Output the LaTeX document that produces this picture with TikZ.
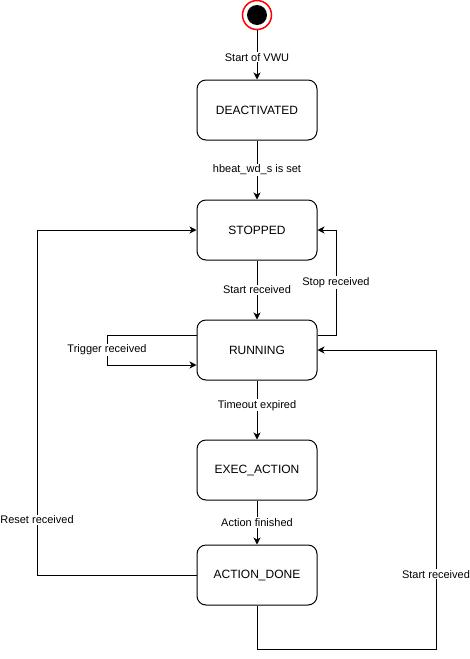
\documentclass[tikz,border=0pt]{standalone}
\usepackage{fontspec}
\setmainfont{Liberation Sans}
\usetikzlibrary{arrows.meta}

\tikzset{
	state/.style={draw, line width=1pt, rounded corners=9pt, minimum width=120pt, minimum height=60pt, inner sep=0pt, font=\fontsize{12}{14}\selectfont},
	trans/.style={-{Stealth[length=7pt,width=7pt,inset=2pt]}, line width=1pt},
	lbl/.style={fill=white, inner sep=1pt, font=\fontsize{11}{13}\selectfont}
}

\begin{document}
\begin{tikzpicture}[x=1pt,y=-1pt]
						\useasboundingbox (0,0) rectangle (469,659);
					
						\draw[red, line width=1.5pt, fill=white](257,15) circle (14.5);
						\node[circle, fill=black, minimum size=20pt, inner sep=0pt] (init) at (257,15) {};
						\coordinate (initS) at (257,30);
						
						\node[state] (deact) at (257,110) {DEACTIVATED};
						\node[state] (stop) at (257,230) {STOPPED};
						\node[state] (run) at (257,350) {RUNNING};
						\node[state] (exec) at (257,470) {EXEC\_ACTION};
						\node[state] (done) at (257,575) {ACTION\_DONE};
						
						\coordinate (trig1) at (107,335);
						\coordinate (trig2) at (107,365);
						\coordinate (stp1) at (336,335);
						\coordinate (stp2) at (336,230);
						\coordinate (rst1) at (37,575);
						\coordinate (rst2) at (37,230);
						\coordinate (str1) at (257,649);
						\coordinate (str2) at (436,649);
						\coordinate (str3) at (436,350);
						
						\draw[trans] (initS) -- node[lbl, pos=0.55] {Start of VWU} (deact);
						\draw[trans] (deact) -- node[lbl] {hbeat\_wd\_s is set} (stop);
						\draw[trans] (stop) -- node[lbl] {Start received} (run);
						\draw[trans] (run) -- node[lbl, pos=0.42] {Timeout expired} (exec);
						\draw[trans] (exec) -- node[lbl] {Action finished} (done);
						
						\draw[trans] ([yshift=15pt]run.west) -- (trig1) -- node[lbl] {Trigger received} (trig2) -- ([yshift=-15pt]run.west);
						\draw[trans] ([yshift=15pt]run.east) -- (stp1) -- node[lbl] {Stop received} (stp2) -- (stop.east);
						\draw[trans] (done.west) -- (rst1) -- node[lbl, pos=0.16] {Reset received} (rst2) -- (stop.west);
						\draw[trans] (done.south) -- (str1) -- (str2) -- node[lbl, pos=0.25] {Start received} (str3) -- (run.east);
					\end{tikzpicture}
\end{document}
